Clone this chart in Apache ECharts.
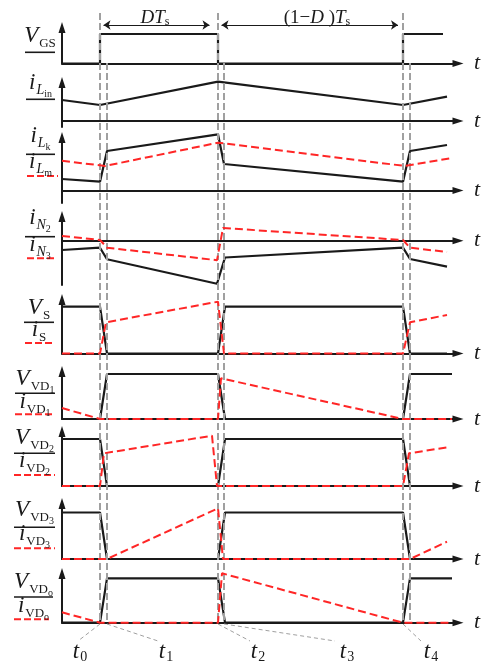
<!DOCTYPE html>
<html>
<head>
<meta charset="utf-8">
<script src="https://cdn.jsdelivr.net/npm/echarts@6/dist/echarts.min.js"></script>
<style>
  html, body { margin: 0; padding: 0; background: #fff; }
  #main { width: 484px; height: 664px; }
</style>
</head>
<body>
<div id="main"></div>
<script>
// time axis: units measured from the y-axis, t0..t5 switching instants
var tEvents = [38, 45, 156, 162, 341, 348];
var tNames = ['0', '1', '2', '3', '4'];

// waveforms (time list + level list for each trace)
var vgsT = [0, 38, 38, 156, 156, 341, 341, 381];
var vgsV = [0, 0, 29.5, 29.5, 0, 0, 29.5, 29.5];

var iLinT = [0, 38, 156, 341, 385];
var iLinV = [21, 16, 39.3, 16, 24.3];

var iLkT = [0, 38, 45, 156, 162, 341, 348, 385];
var iLkV = [11.5, 8.8, 39.5, 56.2, 26.5, 8.8, 39.5, 45.5];
var iLmT = [0, 43, 156, 343, 390];
var iLmV = [29.8, 24.5, 47.8, 24.5, 32.5];

var iN3T = [0, 38, 45, 155, 163, 341, 348, 385];
var iN3V = [-9.3, -7, -18.6, -43, -16.8, -7, -18.3, -26];
var iN2T = [0, 38, 45, 155, 161, 341, 348, 385];
var iN2V = [4.7, 0.7, -7, -19.5, 12.7, 0.7, -7, -11.3];

var vsT = [0, 38, 45, 156, 163, 341, 348, 385];
var vsV = [46.8, 46.8, 0, 0, 46.8, 46.8, 0, 0];
var isT = [0, 38, 44, 156, 162, 341, 348, 385];
var isV = [0, 0, 31.2, 51.8, 0, 0, 31.2, 38.5];

var vd1T = [0, 38, 45, 156, 163, 341, 348, 390];
var vd1V = [0, 0, 45, 45, 0, 0, 45, 45];
var id1T = [0, 38, 156, 159, 341, 390];
var id1V = [11, 0, 0, 40.7, 0, 0];

var vd2T = [0, 38, 45, 156, 163, 341, 348, 385];
var vd2V = [47, 47, 0, 0, 47, 47, 0, 0];
var id2T = [0, 38, 42, 150, 155, 341, 347, 385];
var id2V = [0, 0, 32.7, 50.3, 0, 0, 32.7, 38.7];

var vd3T = [0, 38, 45, 156, 163, 341, 348, 385];
var vd3V = [46.5, 46.5, 0, 0, 46.5, 46.5, 0, 0];
var id3T = [0, 45, 156, 161, 348, 385];
var id3V = [0, 0, 50.7, 0, 0, 17.3];

var vdoT = [0, 38, 45, 156, 163, 341, 348, 390];
var vdoV = [0, 0, 44.4, 44.4, 0, 0, 44.4, 44.4];
var idoT = [0, 38, 156, 160, 341, 390];
var idoV = [10.4, 0, 0, 49.4, 0, 0];

// panel placement in the page (pixels)
var panels = [
  {tip: 22, axis: 63.5, ext: 0},
  {tip: 77, axis: 121, ext: 6},
  {tip: 132, axis: 190.5, ext: 12.5},
  {tip: 211, axis: 240.7, ext: 44.3},
  {tip: 294, axis: 353.5, ext: 0},
  {tip: 366, axis: 419, ext: 0},
  {tip: 426, axis: 486, ext: 0},
  {tip: 498, axis: 559, ext: 0},
  {tip: 568, axis: 622.7, ext: 0}
];

var BLACK = '#1a1a1a', RED = '#ff2626', GREY = '#a0a0a0';
var SERIF = '"Liberation Serif", "Times New Roman", serif';
var XMAX = 396;

var grids = [], xAxes = [], yAxes = [], series = [], graphics = [];

function axisLine() {
  return {show: true, onZero: true, symbol: ['none', 'triangle'], symbolSize: [7, 11],
          lineStyle: {color: BLACK, width: 2}};
}

panels.forEach(function (p, i) {
  var top = p.tip + 5.5;
  grids.push({left: 62, right: 484 - 62 - XMAX, top: top, bottom: 664 - p.axis - p.ext,
              containLabel: false, outerBoundsMode: 'none'});
  xAxes.push({gridIndex: i, type: 'value', min: 0, max: XMAX,
              axisLine: axisLine(), axisTick: {show: false}, axisLabel: {show: false}, splitLine: {show: false},
              name: 't', nameLocation: 'end', nameGap: 16,
              nameTextStyle: {fontFamily: SERIF, fontStyle: 'italic', fontSize: 22, color: BLACK,
                              verticalAlign: 'middle', padding: [4, 0, 0, 0]}});
  yAxes.push({gridIndex: i, type: 'value', min: -p.ext, max: p.axis - top,
              axisLine: axisLine(), axisTick: {show: false}, axisLabel: {show: false}, splitLine: {show: false}});
});

function wave(gi, T, V, red) {
  return {
    type: 'line', xAxisIndex: gi, yAxisIndex: gi, symbol: 'none', clip: false, silent: true,
    z: red ? 5 : 4,
    data: T.map(function (t, k) { return [t, V[k]]; }),
    lineStyle: red ? {color: RED, width: 2, type: [8, 4]} : {color: BLACK, width: 2.2}
  };
}

series.push(wave(0, vgsT, vgsV, false));
series.push(wave(1, iLinT, iLinV, false));
series.push(wave(2, iLkT, iLkV, false), wave(2, iLmT, iLmV, true));
series.push(wave(3, iN3T, iN3V, false), wave(3, iN2T, iN2V, true));
series.push(wave(4, vsT, vsV, false), wave(4, isT, isV, true));
series.push(wave(5, vd1T, vd1V, false), wave(5, id1T, id1V, true));
series.push(wave(6, vd2T, vd2V, false), wave(6, id2T, id2V, true));
series.push(wave(7, vd3T, vd3V, false), wave(7, id3T, id3V, true));
series.push(wave(8, vdoT, vdoV, false), wave(8, idoT, idoV, true));

// overlay grid over the whole page: same time scale, y in page pixels
var OV = panels.length;
grids.push({left: 62, right: 484 - 62 - XMAX, top: 0, bottom: 0, containLabel: false, outerBoundsMode: 'none'});
xAxes.push({gridIndex: OV, type: 'value', min: 0, max: XMAX, show: false});
yAxes.push({gridIndex: OV, type: 'value', min: 0, max: 664, inverse: true, show: false});

var guides = [];
tEvents.forEach(function (t, k) {
  var y0 = (k % 2 === 0) ? 13 : 63;
  guides.push([{coord: [t, y0]}, {coord: [t, 623]}]);
});
series.push({
  type: 'line', xAxisIndex: OV, yAxisIndex: OV, data: [], z: 2,
  markLine: {silent: true, symbol: ['none', 'none'], label: {show: false},
             lineStyle: {color: GREY, width: 2, type: [7, 3]}, data: guides}
});

// leader lines to the t0..t4 labels
var tLabelPos = [[73, 16], [159, 96], [251, 188], [340, 273], [424, 359]];
var leaders = [0, 1, 2, 3, 4].map(function (k) {
  return [{coord: [tEvents[k], 624]}, {coord: [tLabelPos[k][1], 641]}];
});
series.push({
  type: 'line', xAxisIndex: OV, yAxisIndex: OV, data: [], z: 2,
  markLine: {silent: true, symbol: ['none', 'none'], label: {show: false},
             lineStyle: {color: GREY, width: 1, type: [4, 3]}, data: leaders}
});

// DTs and (1-D)Ts double arrows
series.push({
  type: 'line', xAxisIndex: OV, yAxisIndex: OV, data: [], z: 6,
  markLine: {silent: true, symbol: ['arrow', 'arrow'], symbolSize: 7, label: {show: false},
             lineStyle: {color: BLACK, width: 1.2, type: 'solid'},
             data: [[{coord: [tEvents[0] + 3.5, 25]}, {coord: [tEvents[2] - 8.5, 25]}],
                    [{coord: [tEvents[3] - 2.5, 25]}, {coord: [tEvents[4] - 5, 25]}]]}
});

// text helpers
var ctx = document.createElement('canvas').getContext('2d');
function fontOf(p) { return (p.it ? 'italic ' : '') + p.s + 'px ' + SERIF; }
function label(cx, base, parts) {
  var w = 0;
  parts.forEach(function (p) { ctx.font = fontOf(p); p.w = ctx.measureText(p.t).width + (p.kx || 0); w += p.w; });
  var x = cx - w / 2;
  parts.forEach(function (p) {
    graphics.push({type: 'text', x: x, y: base + (p.dy || 0) - 0.33 * p.s, silent: true, z: 10,
      style: {text: p.t, fontFamily: SERIF, fontStyle: p.it ? 'italic' : 'normal', fontSize: p.s,
              fill: BLACK, align: 'left', verticalAlign: 'middle'}});
    x += p.w;
  });
}
function hline(x1, x2, y, red) {
  graphics.push({type: 'line', silent: true, z: 9,
    shape: {x1: x1, y1: y, x2: x2, y2: y},
    style: red ? {stroke: RED, lineWidth: 2, lineDash: [7, 3]} : {stroke: BLACK, lineWidth: 1.6}});
}
function M(t) { return {t: t, s: 23, it: true, kx: 1}; }
function S(t, it) { return {t: t, s: it ? 14 : 13, it: !!it, dy: 4}; }
function SS(t) { return {t: t, s: 10, dy: 7}; }

// left-hand signal names
var nameRows = [
  {line: [25, 55, 52.3], top: 44, a: [M('V'), S('GS')]},
  {line: [26, 55, 99.3], top: 91, a: [M('i'), S('L', true), SS('in')]},
  {line: [26, 55, 154.3], top: 144, a: [M('i'), S('L', true), SS('k')], bot: 170, red: [27, 58, 176], b: [M('i'), S('L', true), SS('m')]},
  {line: [25, 55, 236.7], top: 226, a: [M('i'), S('N', true), SS('2')], bot: 253, red: [27, 57, 258.3], b: [M('i'), S('N', true), SS('3')]},
  {line: [24, 54, 322.3], top: 316, a: [M('V'), S('S')], bot: 338, red: [25, 55, 343], b: [M('i'), S('S')]},
  {line: [15, 55, 393.3], top: 387, a: [M('V'), S('VD'), SS('1')], bot: 410, red: [15, 52, 414.3], b: [M('i'), S('VD'), SS('1')]},
  {line: [14, 55, 453.3], top: 446, a: [M('V'), S('VD'), SS('2')], bot: 469, red: [14, 55, 475], b: [M('i'), S('VD'), SS('2')]},
  {line: [14, 55, 527.3], top: 518, a: [M('V'), S('VD'), SS('3')], bot: 542, red: [14, 55, 548.3], b: [M('i'), S('VD'), SS('3')]},
  {line: [14, 53, 597], top: 590, a: [M('V'), S('VD'), SS('o')], bot: 614, red: [14, 49, 619.3], b: [M('i'), S('VD'), SS('o')]}
];
nameRows.forEach(function (r) {
  var cx = (r.line[0] + r.line[1]) / 2;
  hline(r.line[0], r.line[1], r.line[2], false);
  label(cx, r.top, r.a);
  if (r.b) {
    hline(r.red[0], r.red[1], r.red[2], true);
    label(cx, r.bot, r.b);
  }
});

// interval captions
label(155, 24, [{t: 'D', s: 19, it: true}, {t: 'T', s: 19, it: true}, {t: 's', s: 12, dy: 2}]);
label(317, 24, [{t: '(1\u2212', s: 19}, {t: 'D', s: 19, it: true}, {t: ' )', s: 19},
                {t: 'T', s: 19, it: true}, {t: 's', s: 12, dy: 2}]);

// instants
tNames.forEach(function (n, k) {
  var x = tLabelPos[k][0];
  label(x + 7, 660, [{t: 't', s: 23, it: true, kx: 1}, {t: n, s: 14, dy: 2}]);
});

var chart = echarts.init(document.getElementById('main'), null, {renderer: 'canvas'});
chart.setOption({
  animation: false,
  backgroundColor: '#fff',
  grid: grids,
  xAxis: xAxes,
  yAxis: yAxes,
  series: series,
  graphic: {elements: graphics}
});
</script>
</body>
</html>
